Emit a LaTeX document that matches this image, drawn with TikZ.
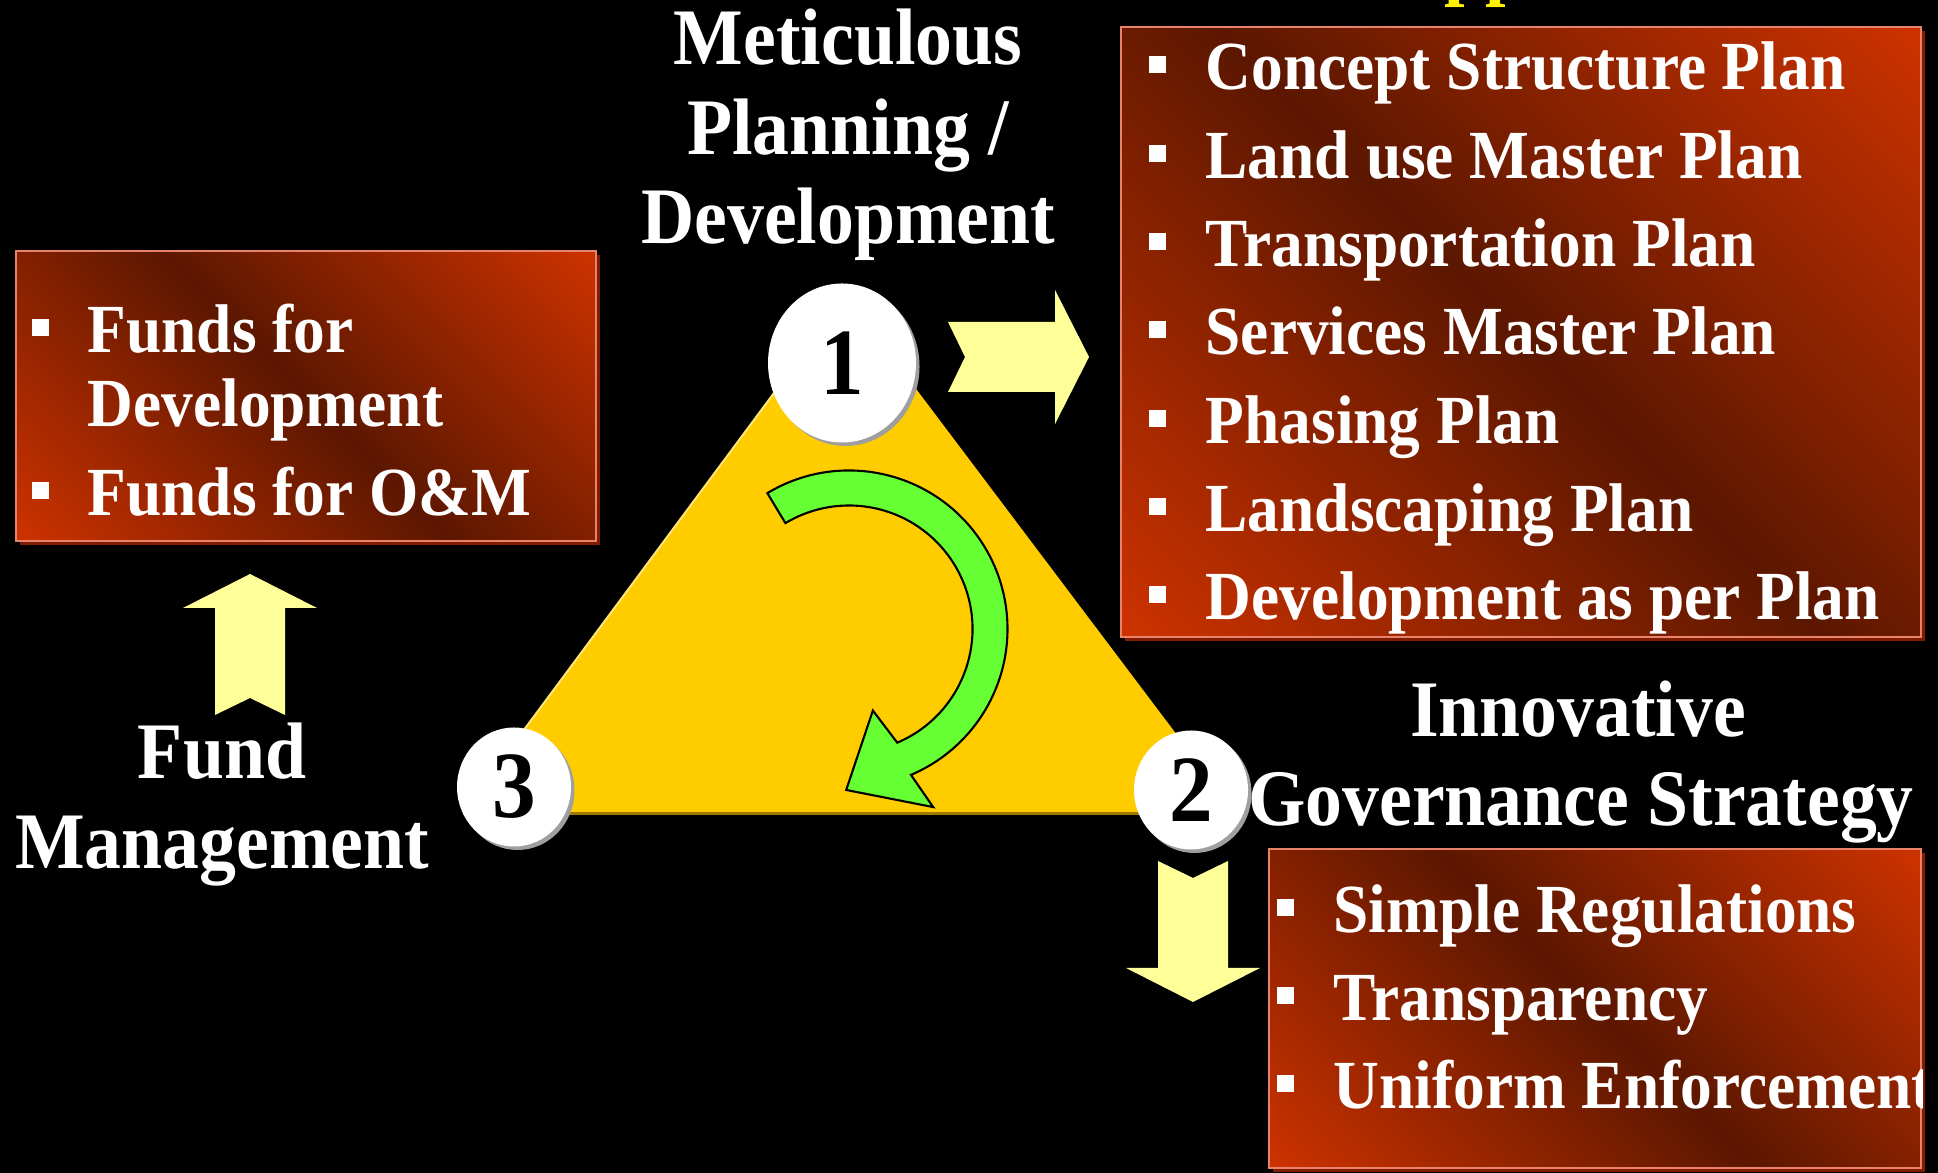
\documentclass[tikz,border=0pt]{standalone}
\usepackage{fontspec}
\setmainfont{Liberation Serif}[FakeStretch=0.92]
\usetikzlibrary{shapes.geometric, shadows, positioning}

\definecolor{boxdark}{RGB}{92,23,0}
\definecolor{boxbright}{RGB}{204,50,0}
\definecolor{boxrim}{RGB}{232,130,106}
\definecolor{boxshade}{RGB}{130,28,0}
\definecolor{tri}{RGB}{255,204,0}
\definecolor{tririm}{RGB}{160,122,0}
\definecolor{trilight}{RGB}{255,228,120}
\definecolor{pale}{RGB}{255,255,153}
\definecolor{curlgreen}{RGB}{102,255,51}

% dark streak along the box diagonal, bright in the other two corners
\pgfdeclarehorizontalshading{boxglow}{100bp}{color(0bp)=(boxbright); color(15bp)=(boxbright);
  color(50bp)=(boxdark); color(85bp)=(boxbright); color(100bp)=(boxbright)}

\begin{document}
\begin{tikzpicture}[
  listbox/.style={draw=boxrim, line width=0.6pt, shade, shading=boxglow, shading angle=45, inner sep=0,
    drop shadow={shadow xshift=0.04cm, shadow yshift=-0.04cm, fill=boxshade, opacity=1}},
  item/.style={anchor=base west, inner sep=0, text=white, font=\fontsize{19.6}{23}\selectfont\bfseries},
  bullet/.style={fill=white, minimum size=0.17cm, inner sep=0},
  title/.style={anchor=base, inner sep=0, text=white, font=\fontsize{22.8}{26}\selectfont\bfseries},
  stage/.style={ellipse, fill=white, inner sep=0, font=\fontsize{27}{30}\selectfont\bfseries,
    drop shadow={shadow xshift=0.035cm, shadow yshift=-0.035cm, fill=gray!75, opacity=1}},
  curlarrow/.style={fill=curlgreen, draw=black, line width=0.6pt, line join=miter},
  pics/chevron/.style={code={
    \fill[pale] (0,0.35) -- (1.07,0.35) -- (1.07,0.67) -- (1.41,0) -- (1.07,-0.67)
      -- (1.07,-0.35) -- (0,-0.35) -- (0.17,0) -- cycle;
  }}
]
\useasboundingbox (0,0) rectangle (19.38,11.73);
\fill[black] (0,0) rectangle (19.38,11.73);

% heading above the plan list, only its descenders reach into the frame
\begin{scope}
\clip (0,0) rectangle (19.38,11.73);
\node[title, text=yellow] (head) at (15.48,11.82) {Approach};
\end{scope}

% the triangle
\coordinate (peak) at (8.46,8.77);
\coordinate (corner3) at (4.63,3.61);
\coordinate (corner2) at (12.35,3.61);
\fill[tri] (peak) -- (corner3) -- (corner2) -- cycle;
\draw[tririm, line width=0.035cm] ([yshift=-0.017cm]corner3) -- ([yshift=-0.017cm]corner2);
\draw[trilight, line width=0.02cm] (peak) -- (corner3);

% green turning arrow inside
\coordinate (swirl) at (8.49,5.44);
\draw[curlarrow] ([shift={(121:1.585)}]swirl) arc[start angle=121, end angle=-67, radius=1.585]
  -- ([shift={(-64.7:1.97)}]swirl) -- ([shift={(-91:1.61)}]swirl) -- ([shift={(-73.7:0.85)}]swirl)
  -- ([shift={(-67:1.235)}]swirl) arc[start angle=-67, end angle=121, radius=1.235] -- cycle;

% numbered corners
\node[stage, minimum width=1.48cm, minimum height=1.59cm] (s1) at (8.42,8.10) {1};
\node[stage, minimum width=1.14cm, minimum height=1.19cm] (s2) at (11.91,3.83) {2};
\node[stage, minimum width=1.14cm, minimum height=1.19cm] (s3) at (5.14,3.86) {3};

% block arrows
\pic (toplans) at (9.48,8.16) {chevron};
\pic[rotate=90] (tofunds) at (2.50,4.58) {chevron};
\pic[rotate=-90] (torules) at (11.93,3.12) {chevron};

% corner titles
\foreach \y/\txt [count=\i] in {11.08/Meticulous, 10.18/{Planning /}, 9.29/Development} {
  \node[title] (plant\i) at (8.48,\y) {\txt};
}
\node[title] (govt1) at (15.78,4.36) {Innovative};
\node[title] (govt2) at (15.81,3.47) {Governance Strategy};
\node[title] (fundt1) at (2.22,3.94) {Fund};
\node[title] (fundt2) at (2.22,3.04) {Management};

% plan list
\node[listbox, minimum width=8.00cm, minimum height=6.10cm] (plans) at (15.21,8.41) {};
\foreach \txt [count=\i] in {Concept Structure Plan, Land use Master Plan, Transportation Plan,
    Services Master Plan, Phasing Plan, Landscaping Plan, Development as per Plan} {
  \node[item] (plan\i) at (12.05,{10.83-(\i-1)*0.883}) {\txt};
  \node[bullet] (planb\i) at ([xshift=-0.48cm, yshift=0.25cm]plan\i.base west) {};
}

% fund list
\node[listbox, minimum width=5.80cm, minimum height=2.90cm] (funds) at (3.06,7.77) {};
\node[item] (fund1) at (0.87,8.20) {Funds for};
\node[item] (fund1b) at (0.87,7.46) {Development};
\node[item] (fund2) at (0.87,6.57) {Funds for O\&M};
\node[bullet] (fundb1) at ([xshift=-0.47cm, yshift=0.25cm]fund1.base west) {};
\node[bullet] (fundb2) at ([xshift=-0.47cm, yshift=0.25cm]fund2.base west) {};

% governance list, cut at the box edge
\node[listbox, minimum width=6.52cm, minimum height=3.19cm] (rules) at (15.95,1.645) {};
\begin{scope}
\clip (rules.south west) rectangle (rules.north east);
\foreach \txt [count=\i] in {Simple Regulations, Transparency, Uniform Enforcement} {
  \node[item] (rule\i) at (13.33,{2.40-(\i-1)*0.88}) {\txt};
  \node[bullet] (ruleb\i) at ([xshift=-0.48cm, yshift=0.25cm]rule\i.base west) {};
}
\end{scope}
\end{tikzpicture}
\end{document}
